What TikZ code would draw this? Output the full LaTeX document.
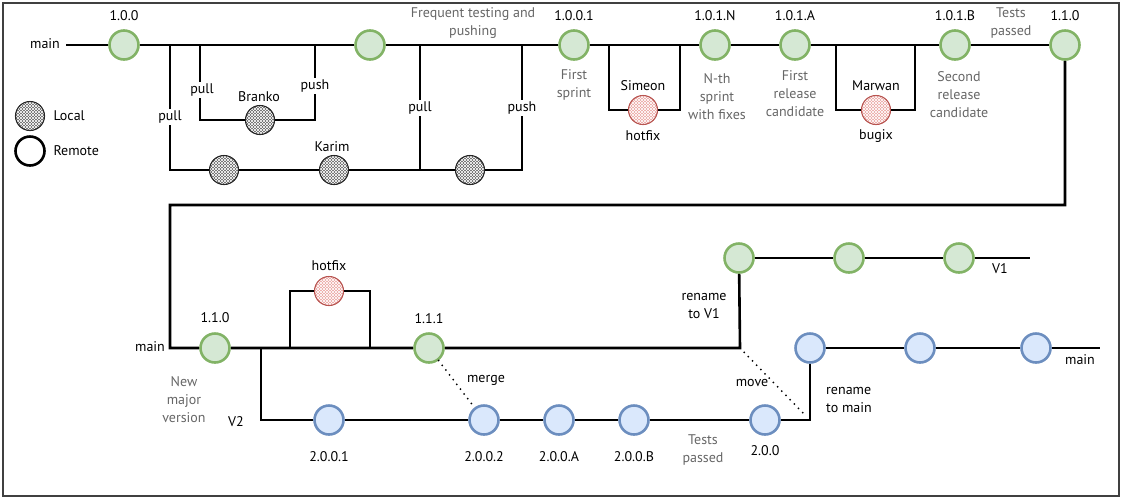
\documentclass[tikz,border=0pt]{standalone}
\usepackage{fontspec}
\setmainfont{PT Sans}
\usetikzlibrary{patterns}
\definecolor{gfill}{HTML}{D5E8D4}
\definecolor{gdraw}{HTML}{82B366}
\definecolor{bfill}{HTML}{DAE8FC}
\definecolor{bdraw}{HTML}{6C8EBF}
\definecolor{rfill}{HTML}{EBA3A0}
\definecolor{rdraw}{HTML}{B85450}
\definecolor{notecol}{HTML}{666666}
\begin{document}
\begin{tikzpicture}[x=1pt,y=-1pt,
  every node/.style={font=\fontsize{14}{18}\selectfont},
  line/.style={line width=2.6pt},
  commit/.style={circle, minimum size=29pt, inner sep=0pt, line width=2.6pt},
  gcommit/.style={commit, draw=gdraw, fill=gfill},
  bcommit/.style={commit, draw=bdraw, fill=bfill},
  rmcommit/.style={commit, draw=black, fill=white},
  hatched/.style={circle, minimum size=29pt, inner sep=0pt, line width=1.1pt,
     preaction={fill=#1},
     preaction={pattern=north east lines, pattern color=white},
     pattern=north west lines, pattern color=white},
  lcommit/.style={hatched=black!62, draw=black!85},
  rcommit/.style={hatched=rfill, draw=rdraw},
  onl/.style={fill=white, inner sep=1.5pt},
  note/.style={text=notecol, align=center},
  dots/.style={line width=2pt, line cap=round, dash pattern=on 0pt off 6pt},
]
\useasboundingbox (0,0) rectangle (1123,499);
\draw[black!75, line width=1.3pt] (3,3) rectangle (1119,496);

% ---- top row commits
\node[gcommit] (n100)  at (124,45) {};
\node[gcommit] (n100b) at (370,45) {};
\node[gcommit] (n1001) at (574,45) {};
\node[gcommit] (n101N) at (715,45) {};
\node[gcommit] (n101A) at (795,45) {};
\node[gcommit] (n101B) at (955,45) {};
\node[gcommit] (n110)  at (1065,45) {};
\node[lcommit] (br) at (260,120) {};
\node[lcommit] (k1) at (224,170) {};
\node[lcommit] (k2) at (334,170) {};
\node[lcommit] (k3) at (470,170) {};
\node[rcommit] (sim) at (643,110) {};
\node[rcommit] (mar) at (876,110) {};

% legend
\node[lcommit] (leglocal) at (30,116) {};
\node[rmcommit] (legremote) at (30,151) {};
\node[anchor=west] (tlocal) at (50,116) {Local};
\node[anchor=west] (tremote) at (50,151) {Remote};

% ---- coordinates
\coordinate (ms) at (66,45);
\coordinate (p1t) at (170,45);  \coordinate (p1b) at (170,170);
\coordinate (q1t) at (420,45);  \coordinate (q1b) at (420,170);
\coordinate (q2t) at (522,45);  \coordinate (q2b) at (522,170);
\coordinate (b1t) at (200,45);  \coordinate (b1b) at (200,120);
\coordinate (b2t) at (315,45);  \coordinate (b2b) at (315,120);
\coordinate (s1t) at (609,45);  \coordinate (s1b) at (609,110);
\coordinate (s2t) at (680,45);  \coordinate (s2b) at (680,110);
\coordinate (m1t) at (836,45);  \coordinate (m1b) at (836,110);
\coordinate (m2t) at (915,45);  \coordinate (m2b) at (915,110);
\coordinate (c1) at (1065,205); \coordinate (c2) at (170,205);
\coordinate (c3) at (170,348);  \coordinate (c4) at (740,348);

% ---- bottom commits
\node[gcommit] (n110b) at (215,348) {};
\node[gcommit] (n111)  at (429,348) {};
\node[rcommit] (hf)    at (329,291) {};
\node[gcommit] (v1a) at (739,258) {};
\node[gcommit] (v1b) at (849,258) {};
\node[gcommit] (v1c) at (959,258) {};
\node[bcommit] (n2001) at (329,420) {};
\node[bcommit] (n2002) at (484,420) {};
\node[bcommit] (n200A) at (559,420) {};
\node[bcommit] (n200B) at (634,420) {};
\node[bcommit] (n200)  at (765,420) {};
\node[bcommit] (mb1) at (810,348) {};
\node[bcommit] (mb2) at (920,348) {};
\node[bcommit] (mb3) at (1036,348) {};

\coordinate (h1) at (290,348); \coordinate (h2) at (290,291);
\coordinate (h3) at (370,291); \coordinate (h4) at (370,348);
\coordinate (d1) at (261,348); \coordinate (d2) at (261,420);
\coordinate (e1) at (810,420);
\coordinate (v1end) at (1030,258);
\coordinate (mbend) at (1100,348);
\coordinate (mv) at (803,413);

% ---- lines top
\draw[line] (ms) -- (n100) -- (n100b) -- (n1001) -- (n101N) -- (n101A) -- (n101B) -- (n110);
\draw[line] (p1t) -- (p1b) -- (k1) -- (k2) -- (k3) -- (q2b) -- (q2t);
\draw[line] (q1t) -- (q1b);
\draw[line] (b1t) -- (b1b) -- (br) -- (b2b) -- (b2t);
\draw[line] (s1t) -- (s1b) -- (sim) -- (s2b) -- (s2t);
\draw[line] (m1t) -- (m1b) -- (mar) -- (m2b) -- (m2t);
% ---- lines bottom
\draw[line] (n110) -- (c1) -- (c2) -- (c3) -- (n110b) -- (n111) -- (c4) -- (v1a);
\draw[line] (h1) -- (h2) -- (hf) -- (h3) -- (h4);
\draw[line] (d1) -- (d2) -- (n2001) -- (n2002) -- (n200A) -- (n200B) -- (n200) -- (e1) -- (mb1);
\draw[line] (v1a) -- (v1b) -- (v1c) -- (v1end);
\draw[line] (mb1) -- (mb2) -- (mb3) -- (mbend);
\draw[dots] (n111) -- (n2002);
\draw[dots] (c4) -- (mv);

% ---- labels top
\node (lmain) at (45,44) {main};
\node (l100) at (124,16) {1.0.0};
\node[note] (lfreq) at (473,23) {Frequent testing and\\pushing};
\node (l1001) at (574,16) {1.0.0.1};
\node (l101N) at (715,16) {1.0.1.N};
\node (l101A) at (795,16) {1.0.1.A};
\node (l101B) at (955,16) {1.0.1.B};
\node[note] (ltests1) at (1011,23) {Tests\\passed};
\node (l110) at (1065,16) {1.1.0};
\node[note] (lfirst) at (574,85) {First\\sprint};
\node[note] (lnth) at (717,97) {N-th\\sprint\\with fixes};
\node[note] (lfrc) at (795,94) {First\\release\\candidate};
\node[note] (lsrc) at (959,95) {Second\\release\\candidate};
\node[onl] (lpull1) at (202,90) {pull};
\node[onl] (lpush1) at (315,86) {push};
\node[onl] (lpull2) at (170,117) {pull};
\node[onl] (lpull3) at (420,108) {pull};
\node[onl] (lpush2) at (522,108) {push};
\node (lbranko) at (259,97) {Branko};
\node (lkarim) at (332,147) {Karim};
\node (lsimeon) at (643,86) {Simeon};
\node (lhotfix1) at (643,136) {hotfix};
\node (lmarwan) at (876,86) {Marwan};
\node (lbugix) at (876,136) {bugix};

% ---- labels bottom
\node (lmain2) at (150,347) {main};
\node (l110b) at (215,318) {1.1.0};
\node[note] (lnew) at (184,400) {New\\major\\version};
\node (lhotfix2) at (329,266) {hotfix};
\node (l111) at (429,319) {1.1.1};
\node (lv2) at (236,422) {V2};
\node (lmerge) at (486,380) {merge};
\node (l2001) at (329,457) {2.0.0.1};
\node (l2002) at (484,457) {2.0.0.2};
\node (l200A) at (559,457) {2.0.0.A};
\node (l200B) at (634,457) {2.0.0.B};
\node[note] (ltests2) at (703,450) {Tests\\passed};
\node (l200) at (765,451) {2.0.0};
\node (lmove) at (752,383) {move};
\node[align=center] (lren1) at (704,306) {rename\\to V1};
\node[align=left] (lren2) at (849,400) {rename\\to main};
\node (lv1) at (1000,269) {V1};
\node (lmain3) at (1080,360) {main};
\end{tikzpicture}
\end{document}
